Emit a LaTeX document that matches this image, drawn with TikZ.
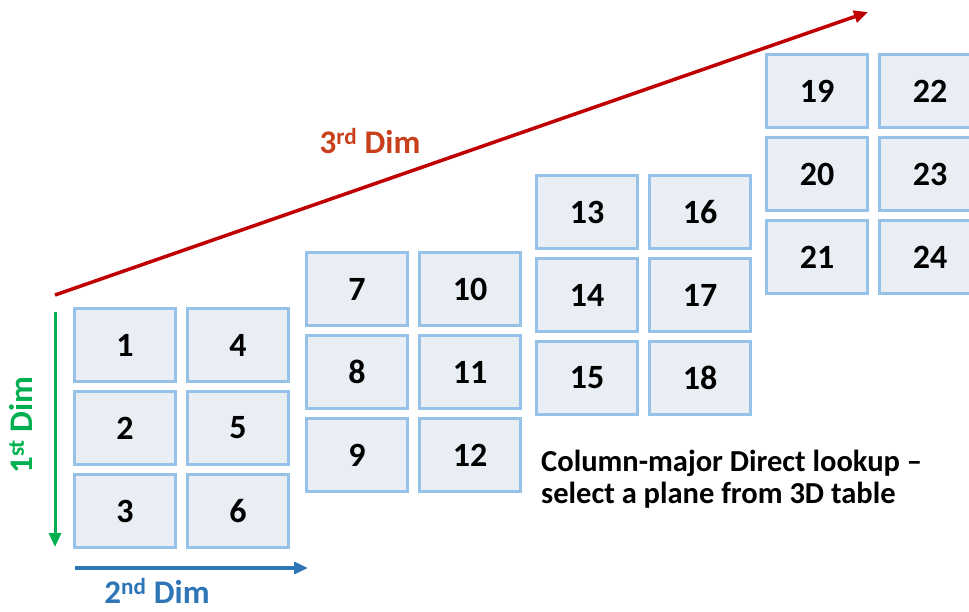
\documentclass[tikz,border=0pt]{standalone}
\usepackage{fontspec}
\setmainfont{Carlito}
\usepackage{xcolor}
\usepackage{tikz}
\usetikzlibrary{positioning, arrows.meta}
\definecolor{cellfill}{HTML}{E9EEF5}
\definecolor{cellborder}{HTML}{96C1E8}
\definecolor{dimred}{HTML}{C00000}
\definecolor{dimredtext}{HTML}{C8401A}
\definecolor{dimgreen}{HTML}{00B050}
\definecolor{dimblue}{HTML}{2E75B6}

\begin{document}
\begin{tikzpicture}[x=1pt, y=-1pt,
    cellbox/.style={fill=cellfill, draw=cellborder, line width=2.5pt,
      minimum width=101pt, minimum height=73pt, inner sep=0pt,
      font=\fontsize{34}{38}\selectfont\bfseries},
    dimlabel/.style={inner sep=0pt, font=\fontsize{33}{36}\selectfont\bfseries}]
  \useasboundingbox (0,0) rectangle (969,611);
  \clip (0,0) rectangle (969,611);

  % one 3x2 plane per page of the table
  \foreach \p/\ox/\oy in {0/73/307, 1/305/251, 2/535/174, 3/765/53}{
    \foreach \c in {0,1}{
      \foreach \r in {0,1,2}{
        \pgfmathtruncatemacro{\n}{6*\p+3*\c+\r+1}
        \node[cellbox] (c\n) at (\ox+52+113*\c, \oy+38+83*\r) {\n};
      }
    }
  }

  % dimension arrows
  \coordinate (d3s) at (55,295);
  \coordinate (d3e) at (868,12);
  \coordinate (d1s) at (55,312);
  \coordinate (d1e) at (55,547);
  \coordinate (d2s) at (75,568);
  \coordinate (d2e) at (308,568);
  \draw[dimred, line width=3.5pt, -{Triangle[length=14pt, width=12pt]}] (d3s) -- (d3e);
  \draw[dimgreen, line width=3pt, -{Triangle[length=14pt, width=12pt]}] (d1s) -- (d1e);
  \draw[dimblue, line width=3.5pt, -{Triangle[length=14pt, width=12pt]}] (d2s) -- (d2e);

  \node[dimlabel, text=dimredtext] (lab3) at (370,141) {3\textsuperscript{rd} Dim};
  \node[dimlabel, text=dimgreen, rotate=90] (lab1) at (21,425) {1\textsuperscript{st} Dim};
  \node[dimlabel, text=dimblue] (lab2) at (157,591) {2\textsuperscript{nd} Dim};

  \node[anchor=north west, align=left, inner sep=0pt,
        font=\fontsize{30.5}{32}\selectfont\bfseries] (note) at (541,450)
    {Column-major Direct lookup --\\select a plane from 3D table};
\end{tikzpicture}
\end{document}
